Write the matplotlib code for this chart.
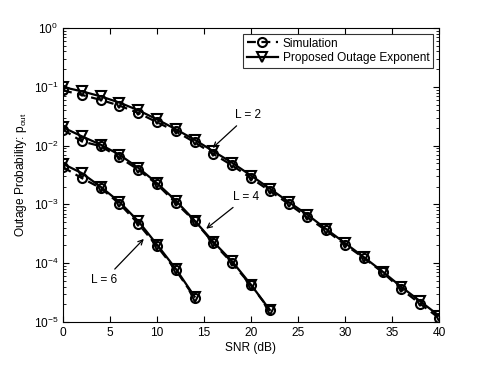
import matplotlib
matplotlib.use("Agg")
import matplotlib.pyplot as plt

plt.rcParams['font.family'] = ['Liberation Sans', 'DejaVu Sans']
plt.rcParams['mathtext.fontset'] = 'custom'
plt.rcParams['mathtext.rm'] = 'Liberation Sans'
plt.rcParams['mathtext.it'] = 'Liberation Sans'

FS = 8.6

# SNR grids
snr_l2 = [0, 2, 4, 6, 8, 10, 12, 14, 16, 18, 20, 22, 24, 26, 28, 30, 32, 34, 36, 38, 40]
snr_l4 = [0, 2, 4, 6, 8, 10, 12, 14, 16, 18, 20, 22]
snr_l6 = [0, 2, 4, 6, 8, 10, 12, 14]

# simulation (circles)
sim_l2 = [0.087, 0.073, 0.060, 0.048, 0.036, 0.025, 0.0175, 0.0114, 0.0072, 0.0046, 0.0028,
          0.0017, 1.02e-3, 6.0e-4, 3.6e-4, 2.07e-4, 1.23e-4, 7.0e-5, 3.6e-5, 2.04e-5, 1.17e-5]
sim_l4 = [0.0187, 0.0118, 0.0098, 0.0063, 0.0039, 0.0022, 1.06e-3, 5.2e-4, 2.2e-4, 1.0e-4, 4.2e-5, 1.6e-5]
sim_l6 = [0.0043, 0.0028, 0.0019, 1.03e-3, 4.7e-4, 1.94e-4, 7.6e-5, 2.6e-5]

# proposed outage exponent (triangles)
exp_l2 = [0.099, 0.084, 0.069, 0.054, 0.040, 0.028, 0.019, 0.0126, 0.0080, 0.0051, 0.0031,
          0.00186, 1.1e-3, 6.7e-4, 3.8e-4, 2.2e-4, 1.27e-4, 7.2e-5, 3.95e-5, 2.25e-5, 1.28e-5]
exp_l4 = [0.0204, 0.0144, 0.0104, 0.0070, 0.0042, 0.0023, 1.16e-3, 5.3e-4, 2.3e-4, 1.07e-4, 4.3e-5, 1.6e-5]
exp_l6 = [0.0049, 0.0034, 0.0020, 1.1e-3, 5.2e-4, 2.07e-4, 8.0e-5, 2.7e-5]

fig = plt.figure(figsize=(4.85, 3.65), dpi=100)
ax = fig.add_axes([0.130, 0.118, 0.775, 0.805])

sim_style = dict(color='black', linestyle='--', linewidth=1.6, marker='o', markersize=6.5,
                 markerfacecolor='none', markeredgewidth=1.5, dashes=(4, 2.5))
exp_style = dict(color='black', linestyle='-', linewidth=1.6, marker='v', markersize=7.5,
                 markerfacecolor='none', markeredgewidth=1.5)

ax.plot(snr_l2, sim_l2, label='Simulation', **sim_style)
ax.plot(snr_l2, exp_l2, label='Proposed Outage Exponent', **exp_style)
ax.plot(snr_l4, sim_l4, **sim_style)
ax.plot(snr_l4, exp_l4, **exp_style)
ax.plot(snr_l6, sim_l6, **sim_style)
ax.plot(snr_l6, exp_l6, **exp_style)

ax.set_yscale('log')
ax.set_xlim(0, 40)
ax.set_ylim(1e-5, 1)
ax.set_xticks([0, 5, 10, 15, 20, 25, 30, 35, 40])
ax.tick_params(which='both', direction='in', top=True, right=True, labelsize=FS)
ax.tick_params(which='major', length=4)
ax.tick_params(which='minor', length=2)
for s in ax.spines.values():
    s.set_linewidth(0.8)

ax.set_xlabel('SNR (dB)', fontsize=FS, labelpad=2)
ax.set_ylabel(r'Outage Probability: p$_{\mathrm{out}}$', fontsize=FS, labelpad=3)

arrow = dict(arrowstyle='->', color='black', lw=0.9)
ax.annotate('L = 2', xy=(15.7, 0.0085), xytext=(19.7, 0.033), fontsize=FS,
            ha='center', va='center', arrowprops=arrow)
ax.annotate('L = 4', xy=(15.0, 3.6e-4), xytext=(19.5, 1.34e-3), fontsize=FS,
            ha='center', va='center', arrowprops=arrow)
ax.annotate('L = 6', xy=(8.8, 2.8e-4), xytext=(4.4, 5.2e-5), fontsize=FS,
            ha='center', va='center', arrowprops=arrow)

leg = ax.legend(loc='upper right', fontsize=FS, frameon=True, fancybox=False,
                edgecolor='black', handlelength=2.6, borderpad=0.3, labelspacing=0.2,
                handletextpad=0.4, borderaxespad=0.5)
leg.get_frame().set_linewidth(0.8)

fig.savefig('out.png', dpi=100)
